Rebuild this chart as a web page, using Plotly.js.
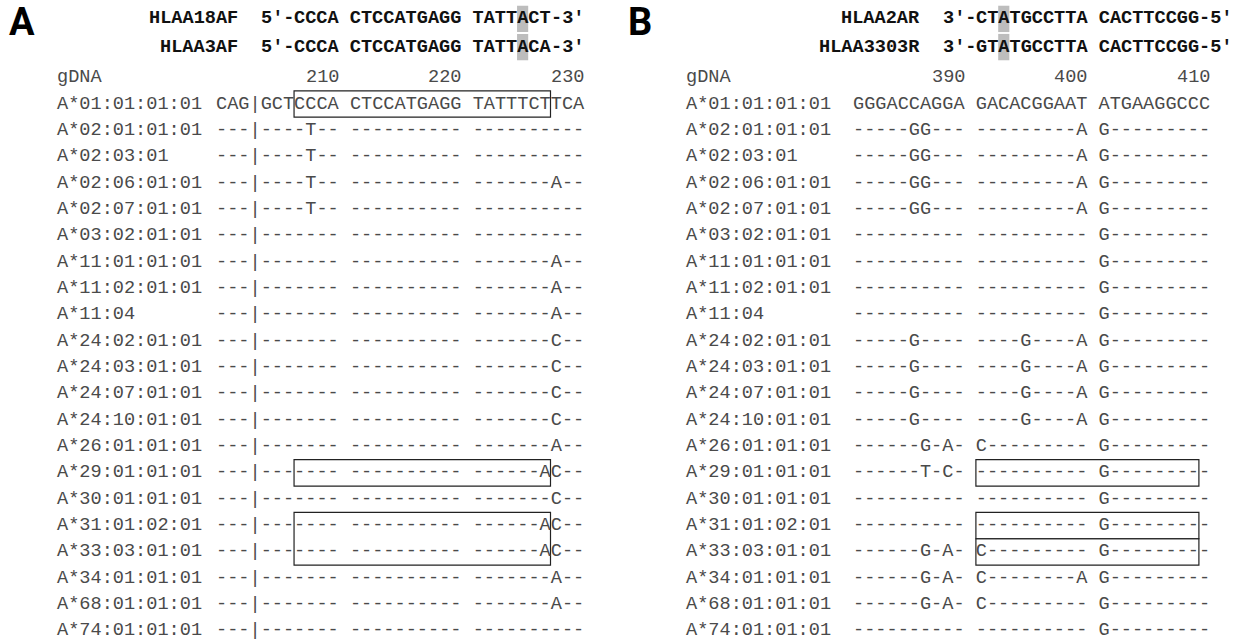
<!DOCTYPE html>
<html><head><meta charset="utf-8">
<script src="https://cdn.plot.ly/plotly-3.0.1.min.js"></script>
<style>html,body{margin:0;padding:0;background:#fff;}#chart{width:1239px;height:641px;}</style>
</head><body><div id="chart"></div>
<script>
// ---------------- data ----------------
const alleles = [
  'A*01:01:01:01','A*02:01:01:01','A*02:03:01','A*02:06:01:01','A*02:07:01:01',
  'A*03:02:01:01','A*11:01:01:01','A*11:02:01:01','A*11:04','A*24:02:01:01',
  'A*24:03:01:01','A*24:07:01:01','A*24:10:01:01','A*26:01:01:01','A*29:01:01:01',
  'A*30:01:01:01','A*31:01:02:01','A*33:03:01:01','A*34:01:01:01','A*68:01:01:01',
  'A*74:01:01:01'
];
const seqsA = [
  'CAG|GCTCCCA CTCCATGAGG TATTTCTTCA',
  '---|----T-- ---------- ----------',
  '---|----T-- ---------- ----------',
  '---|----T-- ---------- -------A--',
  '---|----T-- ---------- ----------',
  '---|------- ---------- ----------',
  '---|------- ---------- -------A--',
  '---|------- ---------- -------A--',
  '---|------- ---------- -------A--',
  '---|------- ---------- -------C--',
  '---|------- ---------- -------C--',
  '---|------- ---------- -------C--',
  '---|------- ---------- -------C--',
  '---|------- ---------- -------A--',
  '---|------- ---------- ------AC--',
  '---|------- ---------- -------C--',
  '---|------- ---------- ------AC--',
  '---|------- ---------- ------AC--',
  '---|------- ---------- -------A--',
  '---|------- ---------- -------A--',
  '---|------- ---------- ----------'
];
const seqsB = [
  'GGGACCAGGA GACACGGAAT ATGAAGGCCC',
  '-----GG--- ---------A G---------',
  '-----GG--- ---------A G---------',
  '-----GG--- ---------A G---------',
  '-----GG--- ---------A G---------',
  '---------- ---------- G---------',
  '---------- ---------- G---------',
  '---------- ---------- G---------',
  '---------- ---------- G---------',
  '-----G---- ----G----A G---------',
  '-----G---- ----G----A G---------',
  '-----G---- ----G----A G---------',
  '-----G---- ----G----A G---------',
  '------G-A- C--------- G---------',
  '------T-C- ---------- G---------',
  '---------- ---------- G---------',
  '---------- ---------- G---------',
  '------G-A- C--------- G---------',
  '------G-A- C--------A G---------',
  '------G-A- C--------- G---------',
  '---------- ---------- G---------'
];
const positionsA = [210, 220, 230];
const positionsB = [390, 400, 410];
const firstPosA = 201;
const firstPosB = 381;
const primerNamesA = ['HLAA18AF', 'HLAA3AF'];
const primerSeqsA = ['CCCA CTCCATGAGG TATTACT', 'CCCA CTCCATGAGG TATTACA'];
const primerEndsA = ['5′', '3′'];
const primerOffsetA = 7;
const mismatchColA = 27;
const primerNamesB = ['HLAA2AR', 'HLAA3303R'];
const primerSeqsB = ['CTATGCCTTA CACTTCCGG', 'GTATGCCTTA CACTTCCGG'];
const primerEndsB = ['3′', '5′'];
const primerOffsetB = 11;
const mismatchColB = 13;
const boxesA = [['A*01:01:01:01'], ['A*29:01:01:01'], ['A*31:01:02:01', 'A*33:03:01:01']];
const boxesB = [['A*29:01:01:01'], ['A*31:01:02:01'], ['A*33:03:01:01']];
const panelLetters = ['A', 'B'];

// ---------------- styling ----------------
const MONO = 'Liberation Mono, Courier New, monospace';
const FS = 18.6;
const txtColor = '#4a4a4a';
const primerRows = [-3.23, -2.16];
const gdnaRow = -1.0;

const annotations = [];
const shapes = [];
const nb = s => s.replace(/ /g, '\u00a0');

function txt(xref, x, y, text, anchor, opts) {
  opts = opts || {};
  annotations.push({
    xref: xref, yref: 'y', x: x, y: y, text: text,
    showarrow: false, xanchor: anchor, yanchor: 'middle',
    borderpad: 0, borderwidth: 0,
    font: {family: opts.family || MONO, size: opts.size || FS, color: opts.color || txtColor, weight: opts.weight || 'normal'}
  });
}

function panel(xref, labelCol, seqCol, seqs, positions, firstPos, pNames, pSeqs, pEnds, pOff, mmCol, boxes) {
  // allele rows
  alleles.forEach((a, i) => {
    txt(xref, labelCol, i, a, 'left');
    txt(xref, seqCol, i, nb(seqs[i]), 'left');
  });
  // gDNA numbering
  txt(xref, labelCol, gdnaRow, 'gDNA', 'left');
  const ref = seqs[0];
  let pos = firstPos - 1;
  for (let k = 0; k < ref.length; k++) {
    if (ref[k] === ' ' || ref[k] === '|') continue;
    pos++;
    if (positions.indexOf(pos) >= 0) txt(xref, seqCol + k + 1, gdnaRow, String(pos), 'right');
  }
  // primers
  const coreLen = pSeqs[0].length;
  pNames.forEach((nm, j) => {
    const y = primerRows[j];
    const bold = {weight: 'bold', color: '#111'};
    txt(xref, seqCol + pOff - 5, y, nm, 'right', bold);
    txt(xref, seqCol + pOff, y, pEnds[0] + '-', 'right', bold);
    txt(xref, seqCol + pOff, y, nb(pSeqs[j]), 'left', bold);
    txt(xref, seqCol + pOff + coreLen, y, '-' + pEnds[1], 'left', bold);
    shapes.push({type: 'rect', xref: xref, yref: 'y', layer: 'below',
      x0: seqCol + mmCol, x1: seqCol + mmCol + 1, y0: y - 0.5, y1: y + 0.5,
      fillcolor: '#bdbdbd', line: {width: 0}});
  });
  // boxes
  boxes.forEach(grp => {
    const rows = grp.map(g => alleles.indexOf(g));
    shapes.push({type: 'rect', xref: xref, yref: 'y',
      x0: seqCol + pOff, x1: seqCol + pOff + coreLen,
      y0: Math.min.apply(null, rows) - 0.5, y1: Math.max.apply(null, rows) + 0.5,
      fillcolor: 'rgba(0,0,0,0)', line: {color: '#222', width: 1.2}});
  });
}

panel('x', -0.25, 14, seqsA, positionsA, firstPosA, primerNamesA, primerSeqsA, primerEndsA, primerOffsetA, mismatchColA, boxesA);
panel('x2', 0, 15, seqsB, positionsB, firstPosB, primerNamesB, primerSeqsB, primerEndsB, primerOffsetB, mismatchColB, boxesB);

// panel letters
[[22, 'A'], [640, 'B']].forEach((p, i) => {
  annotations.push({xref: 'paper', yref: 'paper', x: p[0] / 1239, y: 1 - 22 / 641,
    text: panelLetters[i], showarrow: false, xanchor: 'center', yanchor: 'middle',
    font: {family: 'Liberation Sans Narrow, Roboto, sans-serif', size: 38, color: '#000', weight: 'bold'}});
});

const layout = {
  width: 1239, height: 641,
  margin: {l: 0, r: 0, t: 0, b: 0, pad: 0},
  paper_bgcolor: '#fff', plot_bgcolor: '#fff',
  showlegend: false,
  xaxis: {domain: [0, 0.5], range: [-5.372, 50.188], visible: false, fixedrange: true},
  xaxis2: {domain: [0.5, 1], range: [-5.964, 49.596], visible: false, fixedrange: true, anchor: 'y'},
  yaxis: {domain: [0, 1], range: [20.380, -3.947], visible: false, fixedrange: true},
  annotations: annotations,
  shapes: shapes
};
const traces = [
  {type: 'scatter', x: [], y: [], xaxis: 'x', yaxis: 'y', hoverinfo: 'skip'},
  {type: 'scatter', x: [], y: [], xaxis: 'x2', yaxis: 'y', hoverinfo: 'skip'}
];
Plotly.newPlot('chart', traces, layout, {displayModeBar: false, staticPlot: true});
</script></body></html>
